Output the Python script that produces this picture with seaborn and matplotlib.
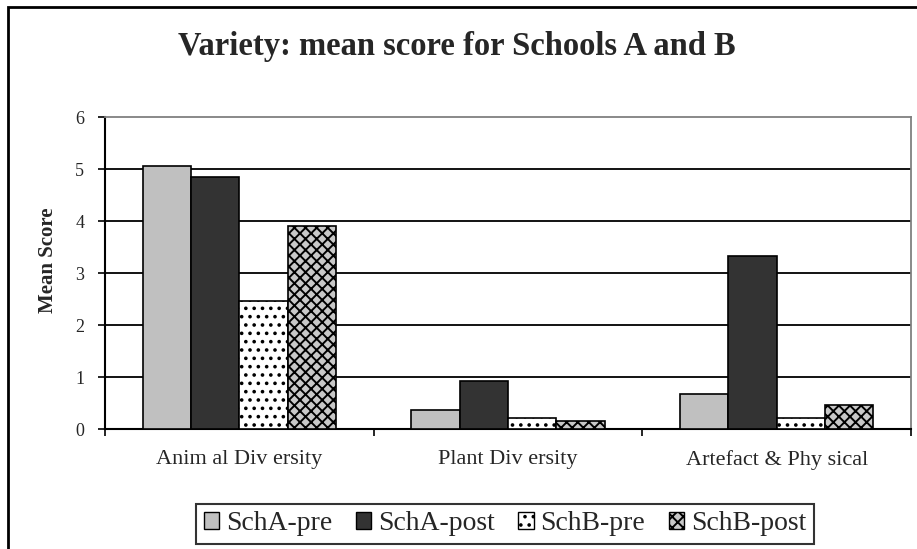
import numpy as np
import pandas as pd
import matplotlib
matplotlib.use("Agg")
import matplotlib.pyplot as plt
import seaborn as sns
from matplotlib.patches import Rectangle

categories = ["Anim al Div ersity", "Plant Div ersity", "Artefact & Phy sical"]
series = ["SchA-pre", "SchA-post", "SchB-pre", "SchB-post"]
scha_pre = [5.06, 0.37, 0.67]
scha_post = [4.84, 0.92, 3.33]
schb_pre = [2.46, 0.22, 0.22]
schb_post = [3.91, 0.15, 0.46]
y_ticks = [0, 1, 2, 3, 4, 5, 6]
title = "Variety: mean score for Schools A and B"
y_label = "Mean Score"

sns.set_theme(style="white")
plt.rcParams["font.family"] = ["Liberation Serif", "DejaVu Serif"]
plt.rcParams["hatch.linewidth"] = 1.4

df = pd.DataFrame({
    "Category": categories * 4,
    "Series": [s for s in series for _ in categories],
    "Value": scha_pre + scha_post + schb_pre + schb_post,
})

fig = plt.figure(figsize=(9.17, 5.49), dpi=100)
W, H = 917, 549
ax = fig.add_axes([105 / W, 1 - 429 / H, (911 - 105) / W, (429 - 117) / H])

faces = ["#c0c0c0", "#333333", "#ffffff", "#c8c8c8"]
hatches = [None, None, "..", "xxx"]

sns.barplot(data=df, x="Category", y="Value", hue="Series", order=categories,
            hue_order=series, palette=faces, width=0.72, ax=ax,
            edgecolor="black", linewidth=1.2, saturation=1, legend=False, zorder=3)

for cont, h, fc in zip(ax.containers, hatches, faces):
    for p in cont.patches:
        p.set_facecolor(fc)
        p.set_edgecolor("black")
        if h:
            p.set_hatch(h)

ax.set_ylim(0, 6)
ax.set_xlim(-0.5, 2.5)
ax.set_yticks(y_ticks)
ax.set_yticklabels([str(t) for t in y_ticks], fontsize=13)
for t in y_ticks[1:-1]:
    ax.axhline(t, color="black", linewidth=1.3, zorder=1)
ax.set_xticks([0, 1, 2])
ax.set_xticklabels(categories, fontsize=16)
ax.set_xticks([-0.5, 0.5, 1.5, 2.5], minor=True)
ax.tick_params(axis="x", which="major", length=0, pad=15)
ax.tick_params(axis="x", which="minor", length=5, width=1.2, color="black", direction="out", bottom=True)
ax.tick_params(axis="y", length=5, width=1.2, color="black", direction="out", left=True, pad=10)
ax.set_xlabel("")
ax.set_ylabel(y_label, fontsize=15, fontweight="bold")
ax.yaxis.set_label_coords((58 - 105) / 806, 0.54)
for side in ["left", "bottom"]:
    ax.spines[side].set_color("black")
    ax.spines[side].set_linewidth(1.5)
for side in ["top", "right"]:
    ax.spines[side].set_color("#808080")
    ax.spines[side].set_linewidth(1.3)
    ax.spines[side].set_visible(True)

fig.text(457 / W, 1 - 55 / H, title, ha="center", va="baseline", fontsize=23.5, fontweight="bold")

# outer chart frame (partly cut off)
fig.patches.append(Rectangle((8 / W, -0.1), 1.2, 1 - 7 / H + 0.1, transform=fig.transFigure,
                             fill=False, edgecolor="black", linewidth=2, zorder=0))

handles = [Rectangle((0, 0), 1, 1, facecolor=fc, edgecolor="black", hatch=h, linewidth=1)
           for fc, h in zip(faces, hatches)]
leg = fig.legend(handles, series, loc="center", bbox_to_anchor=(505 / W, 1 - 524 / H),
                 ncol=4, fontsize=20, frameon=True, fancybox=False, edgecolor="black",
                 handlelength=0.55, handleheight=0.55, handletextpad=0.25, columnspacing=0.85,
                 borderpad=0.28)
leg.get_frame().set_linewidth(1.5)

fig.savefig("out.png", dpi=100)
